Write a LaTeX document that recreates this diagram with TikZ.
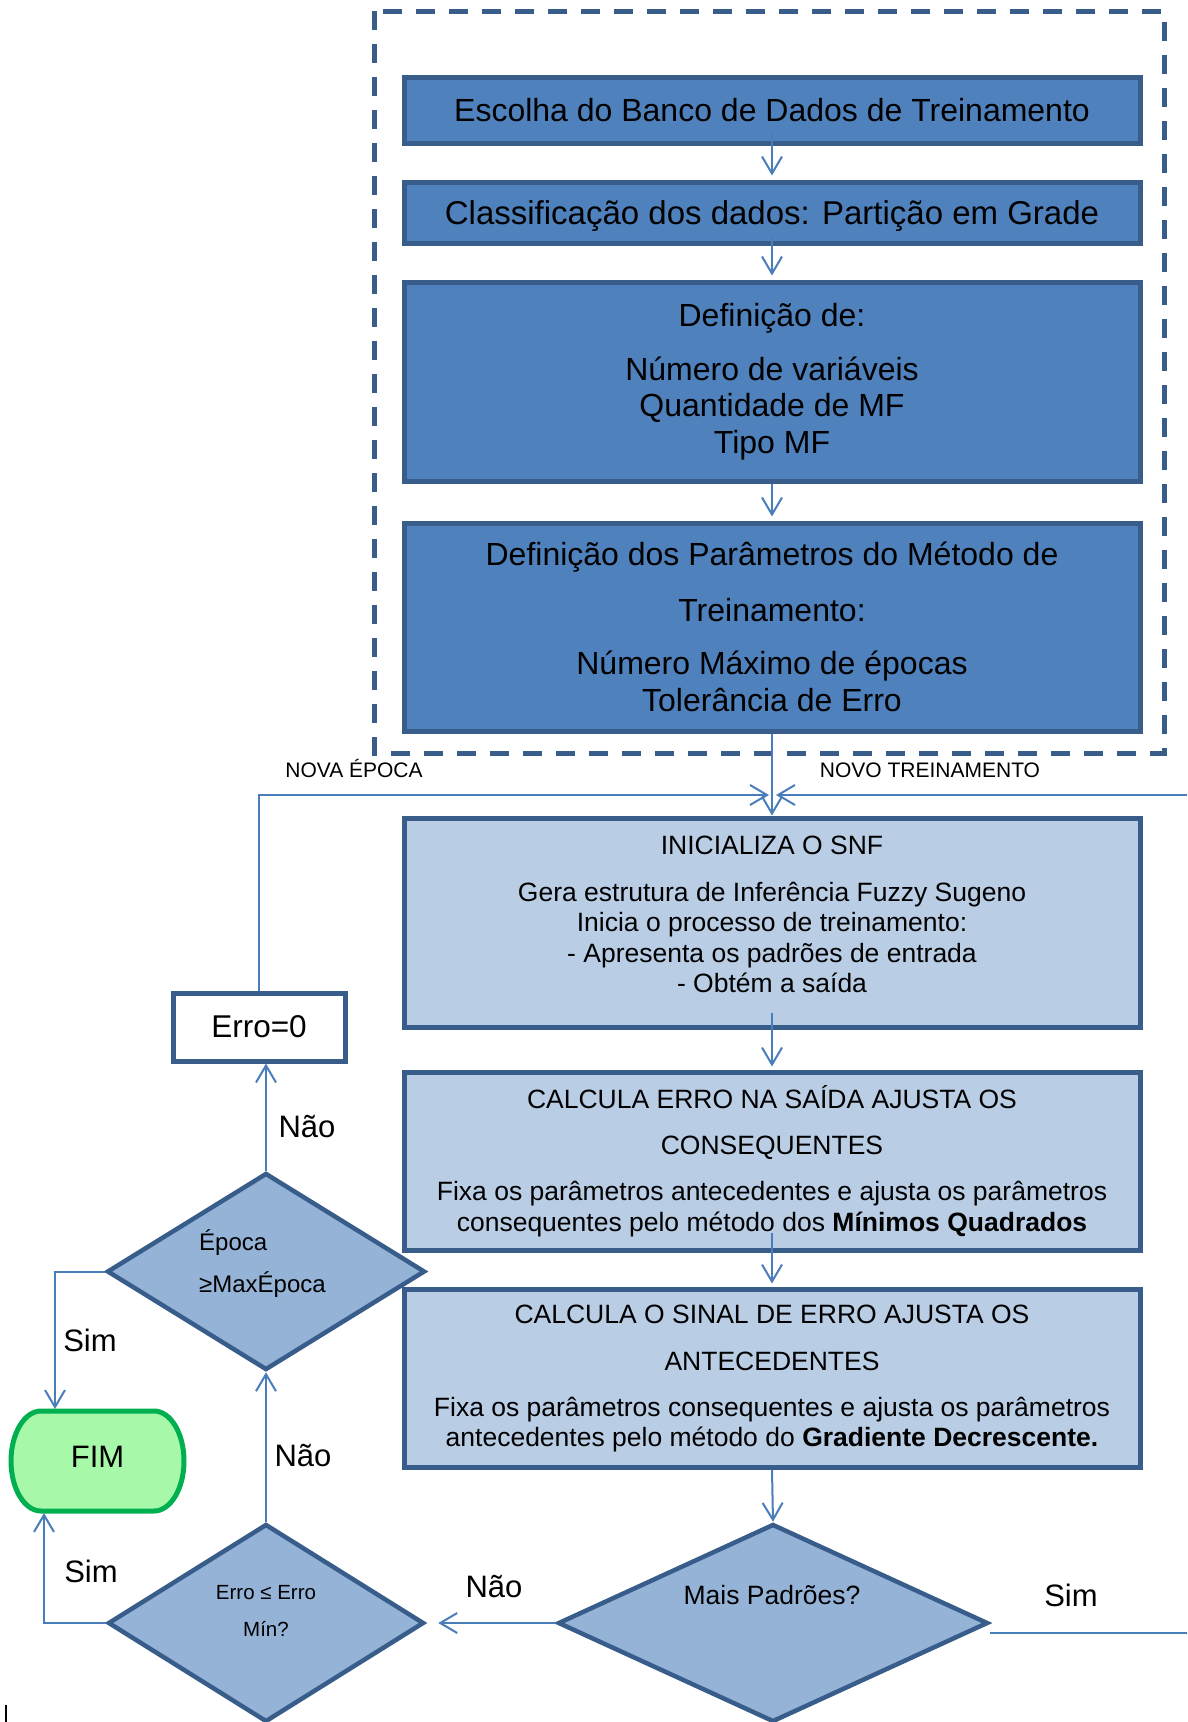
\documentclass[tikz,border=0pt]{standalone}
\usepackage{fontspec}
\setmainfont{Liberation Sans}
\usetikzlibrary{shapes.geometric,arrows.meta,calc}

\definecolor{boxdark}{HTML}{4F81BD}
\definecolor{boxline}{HTML}{385D8A}
\definecolor{boxlight}{HTML}{B9CDE5}
\definecolor{decfill}{HTML}{95B3D7}
\definecolor{lineblue}{HTML}{4A7EBB}
\definecolor{endfill}{HTML}{A7F9A9}
\definecolor{endline}{HTML}{00B050}

\begin{document}
\begin{tikzpicture}[x=1pt,y=-1pt,
  darkbox/.style={rectangle, draw=boxline, fill=boxdark, line width=5pt,
    minimum width=736pt, inner sep=0pt, align=center,
    font=\fontsize{32}{36.5}\selectfont},
  lightbox/.style={rectangle, draw=boxline, fill=boxlight, line width=5pt,
    minimum width=736pt, inner sep=0pt, align=center},
  midtext/.style={inner sep=0pt, align=center, font=\fontsize{26.5}{30.5}\selectfont},
  decision/.style={diamond, draw=boxline, fill=decfill, line width=4.5pt, inner sep=0pt},
  conn/.style={draw=lineblue, line width=2pt},
  arr/.style={conn, -{Straight Barb[length=17pt,width=20pt]}},
  lbl/.style={inner sep=0pt, font=\fontsize{31}{36}\selectfont},
  smalltext/.style={inner sep=0pt, font=\fontsize{21}{25}\selectfont},
]
\useasboundingbox (0,0) rectangle (1187,1722);

% dashed frame around the set-up stage
\draw[boxline, line width=5pt, dash pattern=on 19pt off 14pt] (374,11) rectangle (1164,753);

% set-up stage
\node[darkbox, minimum height=66pt] (b1) at (772,110) {Escolha do Banco de Dados de Treinamento};
\node[darkbox, minimum height=61pt, text depth=0pt, font=\fontsize{33}{37}\selectfont] (b2) at (772,212.5)
  {Classificação dos dados: Partição em Grade};
\node[darkbox, minimum height=199pt] (b3) at (772,381.5)
  {Definição de:\\[17.5pt]Número de variáveis\\Quantidade de MF\\Tipo MF};
\node[darkbox, minimum height=208pt] (b4) at (772,627)
  {Definição dos Parâmetros do Método de\\[19pt]Treinamento:\\[17pt]Número Máximo de épocas\\Tolerância de Erro};

% training loop
\node[lightbox, minimum height=209pt] (ini) at (772,922.5) {};
\node[midtext] (initext) at (772,914.5)
  {INICIALIZA O SNF\\[16pt]Gera estrutura de Inferência Fuzzy Sugeno\\Inicia o processo de treinamento:\\- Apresenta os padrões de entrada\\- Obtém a saída};
\node[lightbox, minimum height=178pt, font=\fontsize{26.5}{31}\selectfont] (ce) at (772,1161)
  {CALCULA ERRO NA SAÍDA AJUSTA OS\\[15pt]CONSEQUENTES\\[15pt]Fixa os parâmetros antecedentes e ajusta os parâmetros\\consequentes pelo método dos \textbf{Mínimos Quadrados}};
\node[lightbox, minimum height=178pt, font=\fontsize{26.5}{30}\selectfont] (sinal) at (772,1378)
  {CALCULA O SINAL DE ERRO AJUSTA OS\\[17pt]ANTECEDENTES\\[16pt]Fixa os parâmetros consequentes e ajusta os parâmetros\\antecedentes pelo método do \textbf{Gradiente Decrescente.}};

\node[rectangle, draw=boxline, fill=white, line width=5pt, minimum width=172pt,
  minimum height=68pt, inner sep=0pt, font=\fontsize{31.5}{36}\selectfont] (erro0) at (259,1027) {Erro=0};

% decisions
\node[decision, minimum width=318pt, minimum height=197pt] (epoca) at (266,1271.5) {};
\node[inner sep=0pt, anchor=west, align=left, font=\fontsize{24}{42}\selectfont] (epocatext) at (199,1264)
  {Época\\≥MaxÉpoca};
\node[decision, minimum width=316pt, minimum height=198pt] (errmin) at (266,1623) {};
\node[inner sep=0pt, align=center, font=\fontsize{20.5}{37}\selectfont] (errmintext) at (266,1610.5)
  {Erro ≤ Erro\\Mín?};
\node[decision, minimum width=430pt, minimum height=198pt] (mais) at (773,1623) {};
\node[midtext] (maistext) at (772,1595) {Mais Padrões?};

% terminator
\draw[endline, fill=endfill, line width=5pt]
  (41,1411) -- (154,1411)
  .. controls (170.6,1411) and (184,1433.4) .. (184,1461)
  .. controls (184,1488.6) and (170.6,1511) .. (154,1511)
  -- (41,1511)
  .. controls (24.4,1511) and (11,1488.6) .. (11,1461)
  .. controls (11,1433.4) and (24.4,1411) .. (41,1411) -- cycle;
\node[inner sep=0pt, minimum width=173pt, minimum height=100pt,
  font=\fontsize{31}{36}\selectfont] (fim) at (97.5,1457) {FIM};

% free ends of connectors
\coordinate (jl) at (769,795);
\coordinate (jr) at (776,795);
\coordinate (edgeR) at (1187,795);
\coordinate (edgeS) at (1187,1633);
\coordinate (fimT) at (55,1409);
\coordinate (fimB) at (44,1513);

% connectors
\draw[arr] ([yshift=13pt]b1.south) -- ([yshift=4pt]b2.north);
\draw[arr] ([yshift=10pt]b2.south) -- ([yshift=4pt]b3.north);
\draw[arr] (b3.south) -- ([yshift=4pt]b4.north);
\draw[arr] (b4.south) -- (ini.north);
\draw[arr] (erro0.north) |- (jl);
\draw[arr] (edgeR) -- (jr);
\draw[arr] ([yshift=17pt]ini.south) -- ([yshift=3pt]ce.north);
\draw[arr] ([yshift=20pt]ce.south) -- ([yshift=3pt]sinal.north);
\draw[arr] (sinal.south) -- (mais.north);
\draw[arr, shorten >=12pt] (mais.west) -- (errmin.east);
\draw[conn] (mais.east |- edgeS) -- (edgeS);
\draw[arr] (errmin.north) -- (epoca.south);
\draw[arr] (epoca.north) -- (epoca.north |- erro0.south);
\draw[arr] (epoca.west) -| (fimT);
\draw[arr] (errmin.west) -| (fimB);

% connector labels
\node[lbl] (nao1) at (307,1127) {Não};
\node[lbl] (nao2) at (303,1456) {Não};
\node[lbl] (nao3) at (494,1587) {Não};
\node[lbl] (sim1) at (90,1340) {Sim};
\node[lbl] (sim2) at (91,1571) {Sim};
\node[lbl] (sim3) at (1071,1595) {Sim};
\node[smalltext] (novaepoca) at (354,768) {NOVA ÉPOCA};
\node[smalltext] (novotrein) at (930,770) {NOVO TREINAMENTO};

% short stroke at the lower left edge
\draw[black, line width=2.5pt] (6,1705) -- (6,1722);
\end{tikzpicture}
\end{document}
